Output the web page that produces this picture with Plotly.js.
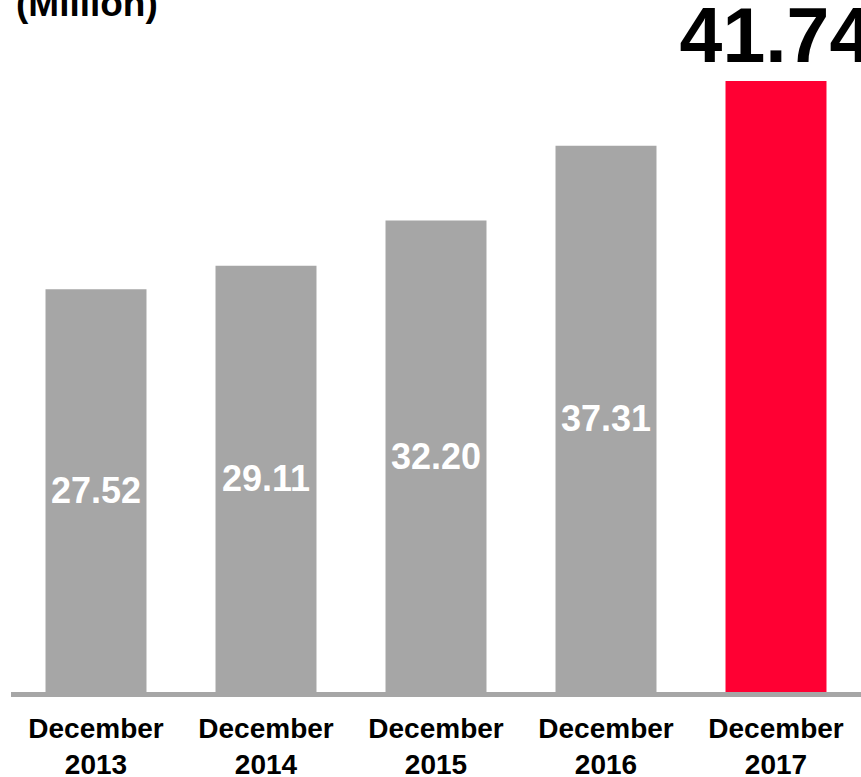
<!DOCTYPE html>
<html>
<head>
<meta charset="utf-8">
<script src="https://cdn.plot.ly/plotly-3.0.1.min.js"></script>
<style>html,body{margin:0;padding:0;background:#fff;}#chart{width:861px;height:777px;}</style>
</head>
<body>
<div id="chart"></div>
<script>
const categories = ["December 2013", "December 2014", "December 2015", "December 2016", "December 2017"];
const tickLabels = ["December<br>2013", "December<br>2014", "December<br>2015", "December<br>2016", "December<br>2017"];
const values = [27.52, 29.11, 32.20, 37.31, 41.74];
const valueLabels = ["27.52", "29.11", "32.20", "37.31", "41.74"];
const unitTitle = "(Million)";

const FONT = "Liberation Sans, Arial, Helvetica, sans-serif";
const highlightIndex = values.length - 1;
const colors = values.map((v, i) => i === highlightIndex ? "#FF0033" : "#A6A6A6");
const positions = values.map((v, i) => i === highlightIndex ? "outside" : "inside");
const textColors = values.map((v, i) => i === highlightIndex ? "#000000" : "#FFFFFF");
const textSizes = values.map((v, i) => i === highlightIndex ? 77 : 36);

const trace = {
  type: "bar",
  x: categories,
  y: values,
  text: valueLabels,
  textposition: positions,
  insidetextanchor: "middle",
  textangle: 0,
  constraintext: "none",
  cliponaxis: false,
  textfont: {family: FONT, color: textColors, size: textSizes, weight: "bold"},
  marker: {color: colors, line: {width: 0}},
  hoverinfo: "none"
};

const layout = {
  width: 861,
  height: 777,
  margin: {l: 11, r: 0, t: 0, b: 85, pad: 0},
  paper_bgcolor: "#FFFFFF",
  plot_bgcolor: "#FFFFFF",
  bargap: 0.406,
  showlegend: false,
  title: {
    text: unitTitle,
    font: {family: FONT, size: 37, color: "#000000", weight: "bold"},
    x: 16 / 861,
    xanchor: "left",
    xref: "container",
    yref: "container",
    y: 1 - 3 / 777,
    yanchor: "middle"
  },
  xaxis: {
    type: "category",
    tickvals: categories,
    ticktext: tickLabels,
    range: [-0.5, 4.5],
    showline: true,
    linecolor: "#A6A6A6",
    linewidth: 5,
    ticks: "",
    ticklabelstandoff: 7,
    showgrid: false,
    zeroline: false,
    tickfont: {family: FONT, size: 28, color: "#000000", weight: "bold"},
    fixedrange: true
  },
  yaxis: {
    range: [0, 47.27],
    visible: false,
    showgrid: false,
    zeroline: false,
    fixedrange: true
  }
};

Plotly.newPlot("chart", [trace], layout, {displayModeBar: false, staticPlot: true});
</script>
</body>
</html>
